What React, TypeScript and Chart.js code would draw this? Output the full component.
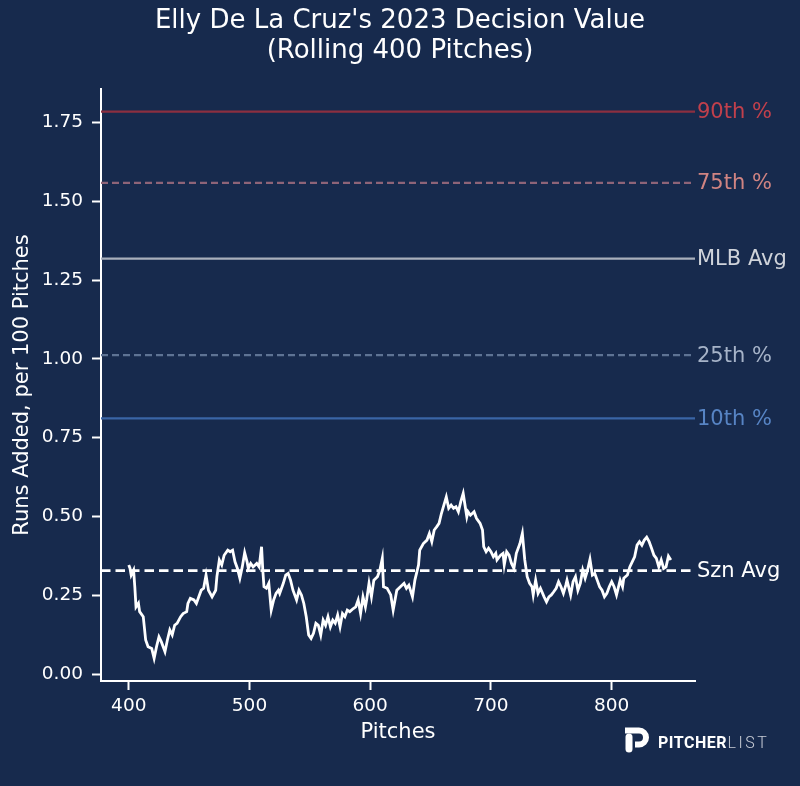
import React, { useEffect, useRef } from "react";
import { Chart, registerables } from "chart.js";

Chart.register(...registerables);

const pitches = [
  400, 401, 402, 404, 405, 406, 408, 409, 412, 414, 416, 419, 421, 423, 425, 427, 430, 432, 434, 436,
  438, 440, 443, 445, 448, 449, 451, 454, 456, 458, 460, 462, 464, 466, 469, 472, 473, 475, 477, 479,
  482, 484, 486, 488, 490, 492, 494, 496, 498, 499, 501, 503, 506, 508, 510, 511, 512, 514, 516, 518,
  520, 522, 524, 525, 528, 530, 532, 534, 536, 539, 541, 543, 545, 547, 549, 551, 553, 555, 557, 559,
  561, 563, 565, 567, 569, 571, 573, 575, 577, 579, 581, 583, 586, 588, 590, 592, 594, 596, 597, 599,
  601, 603, 606, 608, 610, 611, 614, 617, 619, 622, 625, 628, 630, 632, 635, 637, 640, 641, 644, 647,
  649, 651, 653, 655, 657, 659, 661, 663, 665, 667, 669, 671, 673, 675, 677, 680, 681, 683, 686, 688,
  691, 693, 694, 696, 698, 700, 702, 704, 705, 708, 710, 711, 713, 715, 717, 719, 721, 724, 726, 728,
  730, 732, 734, 735, 737, 739, 741, 744, 746, 748, 750, 752, 754, 756, 758, 760, 762, 763, 766, 768,
  770, 772, 774, 776, 778, 780, 782, 784, 786, 788, 790, 792, 794, 796, 798, 800, 802, 804, 807, 809,
  810, 813, 815, 817, 819, 821, 823, 825, 827, 829, 831, 833, 835, 837, 839, 841, 843, 845, 847, 849,
];

const runsAdded = [
  0.346, 0.336, 0.314, 0.33, 0.277, 0.213, 0.225, 0.198, 0.182, 0.108, 0.087, 0.081, 0.05, 0.087, 0.118, 0.102, 0.071, 0.108, 0.14, 0.124,
  0.155, 0.161, 0.182, 0.192, 0.198, 0.224, 0.24, 0.235, 0.224, 0.245, 0.266, 0.272, 0.314, 0.266, 0.245, 0.266, 0.309, 0.362, 0.346, 0.377,
  0.393, 0.388, 0.393, 0.356, 0.335, 0.304, 0.34, 0.385, 0.356, 0.335, 0.351, 0.34, 0.351, 0.34, 0.404, 0.33, 0.277, 0.272, 0.288, 0.203,
  0.235, 0.256, 0.266, 0.256, 0.288, 0.314, 0.319, 0.298, 0.266, 0.235, 0.266, 0.251, 0.224, 0.182, 0.124, 0.113, 0.129, 0.161, 0.155, 0.124,
  0.171, 0.155, 0.182, 0.15, 0.171, 0.161, 0.187, 0.15, 0.192, 0.182, 0.203, 0.198, 0.208, 0.213, 0.235, 0.192, 0.245, 0.213, 0.235, 0.288,
  0.245, 0.298, 0.309, 0.33, 0.367, 0.277, 0.272, 0.251, 0.203, 0.266, 0.277, 0.288, 0.272, 0.282, 0.245, 0.298, 0.346, 0.393, 0.414, 0.425,
  0.446, 0.42, 0.457, 0.467, 0.478, 0.51, 0.536, 0.562, 0.526, 0.536, 0.526, 0.531, 0.515, 0.547, 0.573, 0.499, 0.515, 0.504, 0.515, 0.494,
  0.478, 0.457, 0.404, 0.388, 0.399, 0.388, 0.372, 0.383, 0.362, 0.377, 0.383, 0.346, 0.388, 0.377, 0.351, 0.335, 0.383, 0.414, 0.446, 0.362,
  0.309, 0.288, 0.277, 0.251, 0.298, 0.256, 0.272, 0.245, 0.229, 0.245, 0.251, 0.261, 0.272, 0.293, 0.277, 0.256, 0.282, 0.298, 0.251, 0.293,
  0.309, 0.266, 0.288, 0.33, 0.304, 0.33, 0.364, 0.314, 0.319, 0.298, 0.277, 0.266, 0.245, 0.256, 0.277, 0.293, 0.277, 0.251, 0.298, 0.277,
  0.304, 0.314, 0.34, 0.356, 0.372, 0.409, 0.42, 0.409, 0.425, 0.434, 0.42, 0.399, 0.377, 0.367, 0.34, 0.362, 0.335, 0.34, 0.374, 0.362,
];

const refLabels = ["90th %", "75th %", "MLB Avg", "25th %", "10th %"];
const refValues = [1.784, 1.558, 1.318, 1.012, 0.811];
const refLineColors = ["#8c2f40", "#8e6478", "#a9afbb", "#5e7394", "#3a65a6"];
const refTextColors = ["#c1404c", "#d08482", "#cfd3da", "#a6b3c8", "#5784c4"];
const refDashed = [false, true, false, true, false];

const seasonAvgLabel = "Szn Avg";
const seasonAvg = 0.328;

const yTicks = [0, 0.25, 0.5, 0.75, 1.0, 1.25, 1.5, 1.75];
const xTicks = [400, 500, 600, 700, 800];

const titleLines = ["Elly De La Cruz's 2023 Decision Value", "(Rolling 400 Pitches)"];
const xTitle = "Pitches";
const yTitle = "Runs Added, per 100 Pitches";

const BG = "#172a4d";
const FONT = "'DejaVu Sans', sans-serif";

export default function App() {
  const ref = useRef<HTMLCanvasElement | null>(null);

  useEffect(() => {
    document.body.style.margin = "0";
    document.body.style.background = BG;
    const canvas = ref.current;
    if (!canvas) return;

    const overlay = {
      id: "overlay",
      beforeDraw(chart: any) {
        const ctx = chart.ctx;
        ctx.save();
        ctx.fillStyle = BG;
        ctx.fillRect(0, 0, chart.width, chart.height);
        ctx.restore();
      },
      beforeDatasetsDraw(chart: any) {
        const ctx = chart.ctx;
        const { left, right } = chart.chartArea;
        const y = chart.scales.y;
        ctx.save();
        refValues.forEach((v, i) => {
          const py = y.getPixelForValue(v);
          ctx.beginPath();
          ctx.strokeStyle = refLineColors[i];
          ctx.lineWidth = 2.2;
          ctx.setLineDash(refDashed[i] ? [7, 4] : []);
          ctx.moveTo(left, py);
          ctx.lineTo(right, py);
          ctx.stroke();
        });
        ctx.restore();
      },
      afterDatasetsDraw(chart: any) {
        const ctx = chart.ctx;
        const { right } = chart.chartArea;
        const left = chart.chartArea.left;
        const y = chart.scales.y;
        ctx.save();
        const py = y.getPixelForValue(seasonAvg);
        ctx.beginPath();
        ctx.strokeStyle = "#ffffff";
        ctx.lineWidth = 2.6;
        ctx.setLineDash([9.5, 5]);
        ctx.moveTo(left, py);
        ctx.lineTo(right, py);
        ctx.stroke();
        ctx.setLineDash([]);

        ctx.font = `21px ${FONT}`;
        ctx.textAlign = "left";
        ctx.textBaseline = "middle";
        refValues.forEach((v, i) => {
          ctx.fillStyle = refTextColors[i];
          ctx.fillText(refLabels[i], right + 2, y.getPixelForValue(v) + 1);
        });
        ctx.fillStyle = "#ffffff";
        ctx.fillText(seasonAvgLabel, right + 2, py + 1);
        ctx.restore();
      },
      afterDraw(chart: any) {
        const ctx = chart.ctx;
        const { left, right, top, bottom } = chart.chartArea;
        ctx.save();
        ctx.fillStyle = "#ffffff";
        ctx.textAlign = "center";
        ctx.textBaseline = "middle";
        ctx.font = `26px ${FONT}`;
        ctx.fillText(titleLines[0], 400, 21);
        ctx.fillText(titleLines[1], 400, 51);

        ctx.font = `21px ${FONT}`;
        ctx.fillText(xTitle, (left + right) / 2, 733);
        ctx.save();
        ctx.translate(23, (top + bottom) / 2);
        ctx.rotate(-Math.PI / 2);
        ctx.fillText(yTitle, 0, 0);
        ctx.restore();

        // Pitcher List logo
        ctx.fillStyle = "#ffffff";
        ctx.strokeStyle = "#ffffff";
        ctx.lineCap = "round";
        ctx.lineWidth = 7;
        ctx.beginPath();
        ctx.moveTo(629, 737);
        ctx.lineTo(629, 749);
        ctx.stroke();
        ctx.lineCap = "butt";
        ctx.lineWidth = 6;
        ctx.beginPath();
        ctx.moveTo(625, 730.5);
        ctx.lineTo(639, 730.5);
        ctx.arc(639, 737.5, 7, -Math.PI / 2, Math.PI / 2);
        ctx.lineTo(635, 744.5);
        ctx.stroke();

        ctx.textAlign = "left";
        ctx.textBaseline = "alphabetic";
        ctx.font = `bold 16px Roboto, ${FONT}`;
        (ctx as any).letterSpacing = "0.5px";
        ctx.fillStyle = "#ffffff";
        ctx.fillText("PITCHER", 658, 748);
        const w = ctx.measureText("PITCHER").width;
        ctx.font = `300 16px Roboto, ${FONT}`;
        (ctx as any).letterSpacing = "2.5px";
        ctx.fillStyle = "#c8ccd6";
        ctx.fillText("LIST", 658 + w + 0.5, 748);
        ctx.restore();
      },
    };

    const chart = new Chart(canvas, {
      type: "line",
      data: {
        datasets: [
          {
            data: pitches.map((p, i) => ({ x: p, y: runsAdded[i] })),
            borderColor: "#ffffff",
            borderWidth: 2.8,
            pointRadius: 0,
            tension: 0,
            fill: false,
          },
        ],
      },
      options: {
        animation: false,
        responsive: false,
        devicePixelRatio: 1,
        layout: { padding: { left: 0, top: 89, right: 105, bottom: 0 } },
        plugins: { legend: { display: false }, tooltip: { enabled: false }, title: { display: false } },
        scales: {
          x: {
            type: "linear",
            min: 377,
            max: 869,
            afterBuildTicks(scale: any) {
              scale.ticks = xTicks.map((v) => ({ value: v }));
            },
            afterFit(scale: any) {
              scale.height = 105;
            },
            border: { display: true, color: "#ffffff", width: 2 },
            grid: { drawOnChartArea: false, drawTicks: true, tickLength: 9, tickColor: "#ffffff", tickWidth: 2 },
            ticks: { color: "#ffffff", font: { family: FONT, size: 18.5 }, padding: 5, maxRotation: 0, callback: (v: any) => String(v) },
          },
          y: {
            type: "linear",
            min: -0.022,
            max: 1.856,
            afterBuildTicks(scale: any) {
              scale.ticks = yTicks.map((v) => ({ value: v }));
            },
            afterFit(scale: any) {
              scale.width = 101;
            },
            border: { display: true, color: "#ffffff", width: 2 },
            grid: { drawOnChartArea: false, drawTicks: true, tickLength: 9, tickColor: "#ffffff", tickWidth: 2 },
            ticks: { color: "#ffffff", font: { family: FONT, size: 18.5 }, padding: 9, callback: (v: any) => Number(v).toFixed(2) },
          },
        },
      },
      plugins: [overlay],
    });

    return () => chart.destroy();
  }, []);

  return (
    <div style={{ position: "absolute", left: 0, top: 0, width: 800, height: 786, background: BG }}>
      <canvas ref={ref} width={800} height={786} style={{ display: "block", width: 800, height: 786 }} />
    </div>
  );
}
